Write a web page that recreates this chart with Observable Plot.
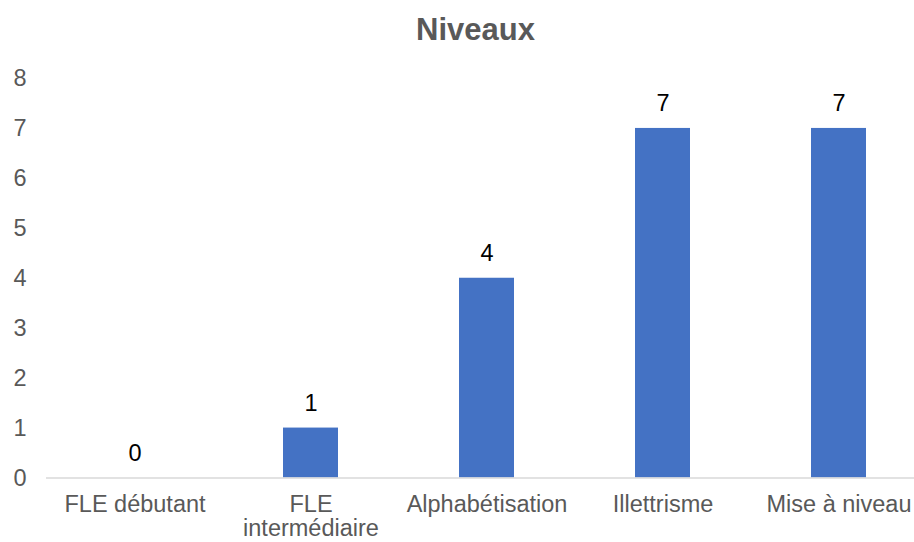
<!DOCTYPE html>
<html>
<head>
<meta charset="utf-8">
<script src="https://cdn.jsdelivr.net/npm/d3@7"></script>
<script src="https://cdn.jsdelivr.net/npm/@observablehq/plot@0.6"></script>
<style>
  html, body { margin: 0; padding: 0; background: #fff; overflow: hidden; }
  #chart svg { display: block; }
</style>
</head>
<body>
<div id="chart"></div>
<script>
const title = "Niveaux";
const categories = ["FLE débutant", "FLE intermédiaire", "Alphabétisation", "Illettrisme", "Mise à niveau"];
const categoryLabels = ["FLE débutant", "FLE\nintermédiaire", "Alphabétisation", "Illettrisme", "Mise à niveau"];
const values = [0, 1, 4, 7, 7];
const yTicks = [0, 1, 2, 3, 4, 5, 6, 7, 8];

const data = categories.map((c, i) => ({category: c, value: values[i]}));
const labelOf = new Map(categories.map((c, i) => [c, categoryLabels[i]]));

const font = "'Liberation Sans', Arial, sans-serif";

const chart = Plot.plot({
  width: 914,
  height: 542,
  marginTop: 78,
  marginBottom: 64.5,
  marginLeft: 46,
  marginRight: -12,
  style: {fontFamily: font, fontSize: "23.5px", background: "#fff", overflow: "visible"},
  x: {domain: categories, paddingInner: 0.6875, paddingOuter: 0.34375, label: null},
  y: {domain: [0, 8], label: null},
  marks: [
    Plot.axisY({ticks: yTicks, tickSize: 0, tickPadding: 20, fill: "#595959", fontSize: 23.5, label: null}),
    Plot.axisX({tickSize: 0, tickPadding: 17.5, fill: "#595959", fontSize: 23.5, lineHeight: 1.0, tickFormat: d => labelOf.get(d), label: null}),
    Plot.barY(data, {x: "category", y: "value", fill: "#4472C4"}),
    Plot.ruleY([0], {stroke: "#d9d9d9", strokeWidth: 1.5}),
    Plot.text(data, {x: "category", y: "value", text: d => String(d.value), dy: -25, lineAnchor: "middle", fill: "#000", fontSize: 23.5}),
    Plot.text([title], {frameAnchor: "top", dx: -11, dy: -48, lineAnchor: "middle", fill: "#595959", fontSize: 31, fontWeight: "bold"})
  ]
});
document.getElementById("chart").appendChild(chart);
</script>
</body>
</html>
